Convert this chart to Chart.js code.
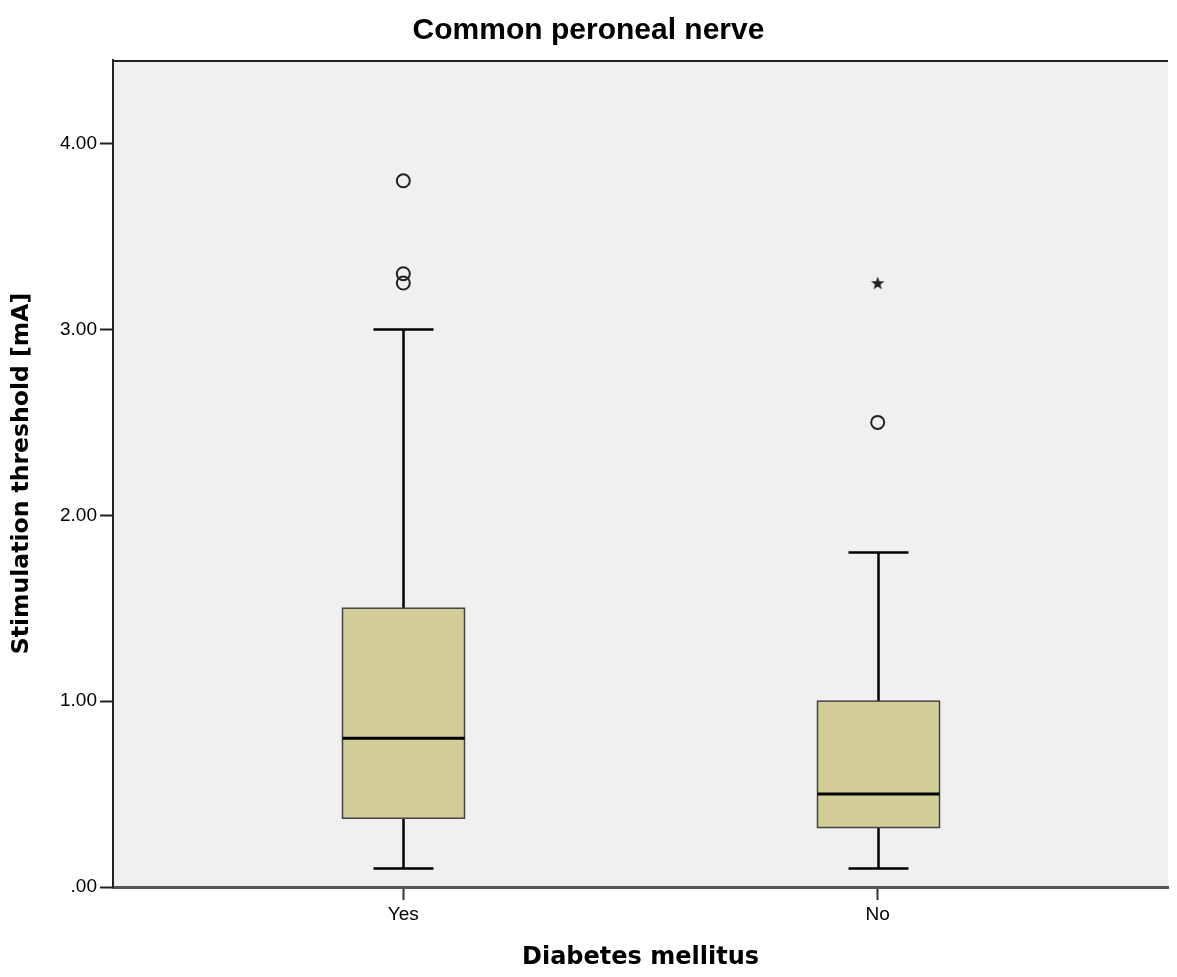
<!DOCTYPE html>
<html>
<head>
<meta charset="utf-8">
<script src="https://cdn.jsdelivr.net/npm/chart.js@4/dist/chart.umd.min.js"></script>
<style>
  html, body { margin: 0; padding: 0; background: #fff; overflow: hidden; }
  canvas { display: block; }
</style>
</head>
<body>
<canvas id="chart" width="1177" height="977"></canvas>
<script>
// box plot summary
const categories = ['Yes', 'No'];
const whiskerLow = [0.10, 0.10];
const q1 = [0.37, 0.32];
const median = [0.80, 0.50];
const q3 = [1.50, 1.00];
const whiskerHigh = [3.00, 1.80];
// outliers (circles) and extremes (stars), per category
const outliers = [[3.80, 3.30, 3.25], [2.50]];
const extremes = [[], [3.25]];
const yTicks = [0, 1, 2, 3, 4];

const outlierPts = [];
const extremePts = [];
categories.forEach((c, i) => {
  outliers[i].forEach(v => outlierPts.push({x: i + 1, y: v}));
  extremes[i].forEach(v => extremePts.push({x: i + 1, y: v}));
});

// five pointed star marker
function starImage() {
  const c = document.createElement('canvas');
  c.width = 16; c.height = 16;
  const g = c.getContext('2d');
  g.fillStyle = '#222';
  g.beginPath();
  for (let k = 0; k < 10; k++) {
    const r = k % 2 === 0 ? 7 : 2.9;
    const a = -Math.PI / 2 + k * Math.PI / 5;
    const px = 8 + r * Math.cos(a), py = 8.5 + r * Math.sin(a);
    if (k === 0) g.moveTo(px, py); else g.lineTo(px, py);
  }
  g.closePath();
  g.fill();
  return c;
}

const plotBg = {
  id: 'plotBg',
  beforeDraw(chart) {
    const {ctx, chartArea: a} = chart;
    ctx.save();
    ctx.fillStyle = '#f0f0f0';
    ctx.fillRect(a.left, a.top, a.right - a.left, a.bottom - a.top);
    ctx.restore();
  },
  afterDraw(chart) {
    const {ctx, chartArea: a} = chart;
    ctx.save();
    ctx.strokeStyle = '#222';
    ctx.lineWidth = 2;
    ctx.beginPath();
    ctx.moveTo(a.left, a.top + 1);
    ctx.lineTo(a.right, a.top + 1);
    ctx.stroke();
    ctx.restore();
  }
};

const boxes = {
  id: 'boxes',
  beforeDatasetsDraw(chart) {
    const {ctx, scales: {x, y}} = chart;
    const boxHalf = 61, capHalf = 30;
    ctx.save();
    categories.forEach((c, i) => {
      const cx = Math.round(x.getPixelForValue(i + 1)) + 0.5;
      const yLo = y.getPixelForValue(whiskerLow[i]);
      const yQ1 = y.getPixelForValue(q1[i]);
      const yMed = y.getPixelForValue(median[i]);
      const yQ3 = y.getPixelForValue(q3[i]);
      const yHi = y.getPixelForValue(whiskerHigh[i]);

      // whiskers
      ctx.strokeStyle = '#000';
      ctx.lineWidth = 2.5;
      ctx.beginPath();
      ctx.moveTo(cx, yLo); ctx.lineTo(cx, yQ1);
      ctx.moveTo(cx, yQ3); ctx.lineTo(cx, yHi);
      ctx.moveTo(cx - capHalf, yLo); ctx.lineTo(cx + capHalf, yLo);
      ctx.moveTo(cx - capHalf, yHi); ctx.lineTo(cx + capHalf, yHi);
      ctx.stroke();

      // box
      ctx.fillStyle = '#d3ce97';
      ctx.fillRect(cx - boxHalf, yQ3, boxHalf * 2, yQ1 - yQ3);
      ctx.strokeStyle = '#444';
      ctx.lineWidth = 1.5;
      ctx.strokeRect(cx - boxHalf, yQ3, boxHalf * 2, yQ1 - yQ3);

      // median
      ctx.strokeStyle = '#000';
      ctx.lineWidth = 3;
      ctx.beginPath();
      ctx.moveTo(cx - boxHalf, yMed); ctx.lineTo(cx + boxHalf, yMed);
      ctx.stroke();
    });
    ctx.restore();
  }
};

new Chart(document.getElementById('chart'), {
  type: 'scatter',
  data: {
    datasets: [
      {
        label: 'Outliers',
        data: outlierPts,
        pointStyle: 'circle',
        pointRadius: 6.5,
        borderColor: '#222',
        borderWidth: 2,
        backgroundColor: 'rgba(0,0,0,0)'
      },
      {
        label: 'Extremes',
        data: extremePts,
        pointStyle: starImage(),
        pointRadius: 8
      }
    ]
  },
  options: {
    responsive: false,
    animation: false,
    layout: { padding: 0 },
    plugins: {
      legend: { display: false },
      tooltip: { enabled: false },
      title: {
        display: true,
        text: 'Common peroneal nerve',
        color: '#000',
        font: { family: 'Liberation Sans, Arial, sans-serif', size: 30, weight: 'bold' },
        padding: { top: 13, bottom: 11 }
      }
    },
    scales: {
      x: {
        type: 'linear',
        min: 0.388,
        max: 2.612,
        afterBuildTicks: s => { s.ticks = categories.map((c, i) => ({value: i + 1})); },
        afterFit: s => { s.height = 90; },
        ticks: {
          callback: v => categories[v - 1],
          color: '#000',
          font: { family: 'Liberation Sans, Arial, sans-serif', size: 19 },
          padding: 3,
          maxRotation: 0
        },
        grid: { drawOnChartArea: false, drawTicks: true, tickLength: 13, color: '#333', tickWidth: 2 },
        border: { display: true, color: '#555', width: 3 },
        title: {
          display: true,
          text: 'Diabetes mellitus',
          color: '#000',
          font: { family: 'DejaVu Sans, Verdana, sans-serif', size: 24, weight: 'bold' },
          padding: { top: 0, bottom: 5 }
        }
      },
      y: {
        min: 0,
        max: 4.45,
        afterBuildTicks: s => { s.ticks = yTicks.map(v => ({value: v})); },
        afterFit: s => { s.width = 113; },
        ticks: {
          callback: v => v === 0 ? '.00' : v.toFixed(2),
          color: '#000',
          font: { family: 'Liberation Sans, Arial, sans-serif', size: 19 },
          padding: 3
        },
        grid: { drawOnChartArea: false, drawTicks: true, tickLength: 13, color: '#222', tickWidth: 2 },
        border: { display: true, color: '#222', width: 2 },
        title: {
          display: true,
          text: 'Stimulation threshold [mA]',
          color: '#000',
          font: { family: 'DejaVu Sans, Verdana, sans-serif', size: 23.5, weight: 'bold' },
          padding: { top: 8, bottom: 0 }
        }
      }
    }
  },
  plugins: [plotBg, boxes]
});
</script>
</body>
</html>
